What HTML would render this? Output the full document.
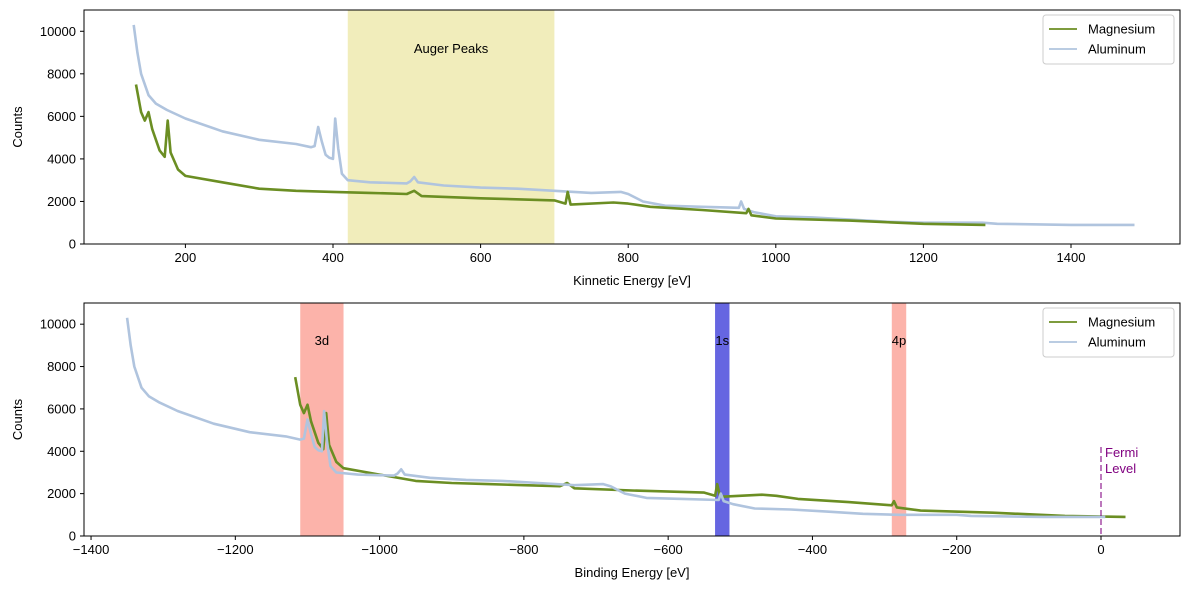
<!DOCTYPE html>
<html><head><meta charset="utf-8"><style>
body{margin:0;background:#fff;}
svg{display:block;font-family:"Liberation Sans","DejaVu Sans",sans-serif;}
</style></head><body>
<svg id="c" width="1189" height="590"></svg>
<script>
const keAl=[130,135,140,150,160,175,200,250,300,350,370,375,380,385,390,395,400,403,407,412,420,450,500,505,510,515,550,600,650,700,750,790,800,820,850,900,950,953,957,970,1000,1050,1100,1150,1200,1280,1300,1400,1486];
const cntAl=[10300,9000,8000,7000,6600,6300,5900,5300,4900,4700,4550,4600,5500,4800,4200,4050,4000,5900,4500,3300,3000,2900,2850,2950,3150,2900,2750,2650,2600,2500,2400,2450,2350,2000,1800,1750,1700,2000,1650,1500,1300,1250,1150,1050,1000,1000,950,900,900];
const keMg=[133,140,145,150,155,165,172,176,180,190,200,250,300,350,400,450,500,510,520,600,700,715,718,722,780,800,830,900,960,963,967,1000,1100,1200,1284];
const cntMg=[7500,6200,5800,6200,5400,4400,4100,5800,4300,3500,3200,2900,2600,2500,2450,2400,2350,2500,2250,2150,2050,1900,2450,1850,1950,1900,1750,1600,1450,1650,1350,1200,1100,950,900];
const xTicksTop=[200,400,600,800,1000,1200,1400];
const xTicksBot=[-1400,-1200,-1000,-800,-600,-400,-200,0];
const yTicks=[0,2000,4000,6000,8000,10000];
const photonAl=1480, photonMg=1250;
const augerBand=[420,700];
const bands=[{lo:-1110,hi:-1050,label:'3d',color:'#fa8072'},{lo:-535,hi:-515,label:'1s',color:'#0000cd'},{lo:-290,hi:-270,label:'4p',color:'#fa8072'}];
const NS='http://www.w3.org/2000/svg';
const svg=document.getElementById('c');
function el(t,a,p){const e=document.createElementNS(NS,t);for(const k in a)e.setAttribute(k,a[k]);(p||svg).appendChild(e);return e;}
function txt(s,a,p){const e=el('text',a,p);e.textContent=s;return e;}
const L=84,R=1180;
function panel(top,bot,xf,xticks,xlabel,name){
  const g=el('g',{});
  
  
  const yf=v=>bot-v*(bot-top)/11000;
  return {g,yf,xf,top,bot,xticks,xlabel};
}
function axes(p){
  const {g,yf,xf,top,bot}=p;
  const fr=el('rect',{x:L,y:top,width:R-L,height:bot-top,fill:'none',stroke:'#000','stroke-width':1},g);
  
  
  p.xticks.forEach(v=>{const x=xf(v);el('line',{x1:x,x2:x,y1:bot,y2:bot+4,stroke:'#000'},g);
    const t=txt(String(v).replace('-','\u2212'),{x:x,y:bot+18,'font-size':13,'text-anchor':'middle'},g);
    });
  yTicks.forEach(v=>{const y=yf(v);el('line',{x1:L-4,x2:L,y1:y,y2:y,stroke:'#000'},g);
    const t=txt(v,{x:L-8,y:y+4.5,'font-size':13,'text-anchor':'end'},g);
    });
  const xl=txt(p.xlabel,{x:(L+R)/2,y:bot+41,'font-size':13,'text-anchor':'middle'},g);
  
  const my=(top+bot)/2;
  const yl=txt('Counts',{x:22,y:my,'font-size':13,'text-anchor':'middle',transform:`rotate(-90 22 ${my})`},g);
  
}
function line(p,xs,ys,off,color,name){
  const pts=xs.map((x,i)=>p.xf(x-off).toFixed(1)+','+p.yf(ys[i]).toFixed(1)).join(' ');
  const l=el('polyline',{points:pts,fill:'none',stroke:color,'stroke-width':2.6,'stroke-linejoin':'round'},p.g);
  
}
function legend(p){
  const x=1043,y=p.top+5;
  const g=el('g',{},p.g);
  
  el('rect',{x:x,y:y,width:131,height:49,rx:3,fill:'#fff','fill-opacity':0.85,stroke:'#ccc'},g);
  [['Magnesium','#6b8e23'],['Aluminum','#b0c4de']].forEach((e,i)=>{
    const yy=y+14+i*20;
    const s=el('line',{x1:x+6,x2:x+34,y1:yy,y2:yy,stroke:e[1],'stroke-width':1.8},g);
    
    const t=txt(e[0],{x:x+45,y:yy+4.5,'font-size':13},g);
    
  });
}
// top panel
const pt=panel(10,244,v=>185.4+(v-200)*0.738,xTicksTop,'Kinnetic Energy [eV]','kinetic-energy-panel');
const ab=el('rect',{x:pt.xf(augerBand[0]),y:pt.top,width:pt.xf(augerBand[1])-pt.xf(augerBand[0]),height:pt.bot-pt.top,fill:'#eee8aa','fill-opacity':0.8},pt.g);

const at=txt('Auger Peaks',{x:pt.xf(560),y:53,'font-size':13,'text-anchor':'middle'},pt.g);

line(pt,keAl,cntAl,0,'#b0c4de','aluminum-line');
line(pt,keMg,cntMg,0,'#6b8e23','magnesium-line');
axes(pt);legend(pt);
// bottom panel
const pb=panel(303,536,v=>1101+v*0.7214,xTicksBot,'Binding Energy [eV]','binding-energy-panel');
bands.forEach(b=>{
  const r=el('rect',{x:pb.xf(b.lo),y:pb.top,width:pb.xf(b.hi)-pb.xf(b.lo),height:pb.bot-pb.top,fill:b.color,'fill-opacity':0.6},pb.g);
  
  const t=txt(b.label,{x:(pb.xf(b.lo)+pb.xf(b.hi))/2,y:345,'font-size':13,'text-anchor':'middle'},pb.g);
  
});
line(pb,keMg,cntMg,photonMg,'#6b8e23','magnesium-line');
line(pb,keAl,cntAl,photonAl,'#b0c4de','aluminum-line');
const fx=pb.xf(0);
const fl=el('line',{x1:fx,x2:fx,y1:447,y2:536,stroke:'#800080','stroke-opacity':0.7,'stroke-width':1.5,'stroke-dasharray':'6,3'},pb.g);

const f1=txt('Fermi',{x:fx+4,y:457,'font-size':13,fill:'#800080'},pb.g);

const f2=txt('Level',{x:fx+4,y:473,'font-size':13,fill:'#800080'},pb.g);

axes(pb);legend(pb);
</script>
</body></html>
